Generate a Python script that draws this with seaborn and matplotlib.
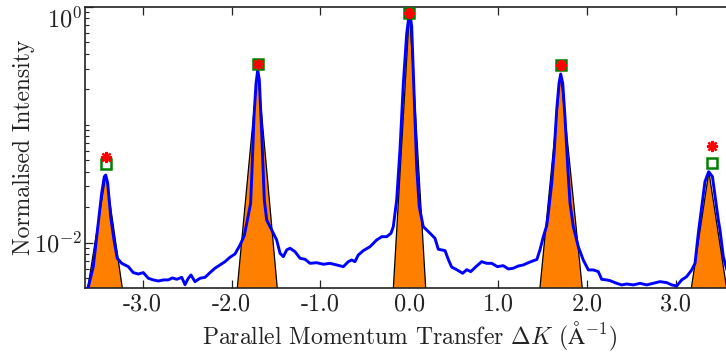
import numpy as np
import pandas as pd
import matplotlib
matplotlib.use("Agg")
import matplotlib.pyplot as plt
import seaborn as sns
from matplotlib.ticker import FixedLocator, LogLocator, FuncFormatter, NullFormatter

# ---- measured intensity scan ----
dk = [-3.648, -3.611, -3.555, -3.498, -3.460, -3.431, -3.415, -3.393, -3.359, -3.322,
      -3.285, -3.235, -3.161, -3.105, -3.048, -2.992, -2.936, -2.880, -2.823, -2.767,
      -2.711, -2.666, -2.616, -2.560, -2.523, -2.486, -2.456, -2.411, -2.354, -2.298,
      -2.242, -2.186, -2.129, -2.073, -2.017, -1.961, -1.904, -1.856, -1.815, -1.785,
      -1.770, -1.747, -1.724, -1.705, -1.687, -1.660, -1.631, -1.604, -1.548, -1.492,
      -1.454, -1.417, -1.379, -1.342, -1.286, -1.229, -1.173, -1.117, -1.042, -0.967,
      -0.892, -0.817, -0.742, -0.686, -0.648, -0.611, -0.574, -0.517, -0.442, -0.367,
      -0.310, -0.254, -0.206, -0.180, -0.142, -0.105, -0.067, -0.029, -0.003, 0.004,
      0.027, 0.056, 0.083, 0.112, 0.157, 0.233, 0.289, 0.326, 0.364, 0.402,
      0.439, 0.477, 0.533, 0.601, 0.646, 0.691, 0.758, 0.814, 0.871, 0.927,
      0.990, 1.057, 1.114, 1.170, 1.226, 1.282, 1.339, 1.395, 1.435, 1.470,
      1.507, 1.546, 1.564, 1.602, 1.631, 1.658, 1.684, 1.703, 1.726, 1.751,
      1.782, 1.808, 1.845, 1.901, 1.957, 2.014, 2.070, 2.126, 2.164, 2.220,
      2.258, 2.333, 2.389, 2.445, 2.520, 2.595, 2.670, 2.745, 2.820, 2.895,
      2.952, 3.008, 3.064, 3.120, 3.177, 3.214, 3.251, 3.289, 3.326, 3.368,
      3.410, 3.445, 3.476, 3.495, 3.532, 3.562, 3.600, 3.648]
intensity = [0.0038, 0.0042, 0.00626, 0.01469, 0.0264, 0.0363, 0.0375, 0.0321, 0.01663, 0.01054,
             0.00737, 0.00668, 0.00626, 0.00557, 0.00542, 0.00557, 0.00499, 0.00483, 0.00473, 0.00483,
             0.00483, 0.00502, 0.00489, 0.00508, 0.00440, 0.00499, 0.00532, 0.00467, 0.00499, 0.00508,
             0.00557, 0.00607, 0.00647, 0.00690, 0.00752, 0.00802, 0.00955, 0.0115, 0.0165, 0.0215,
             0.040, 0.1173, 0.225, 0.292, 0.240, 0.0848, 0.0230, 0.01559, 0.01282, 0.01054,
             0.00813, 0.00761, 0.00868, 0.00897, 0.00839, 0.00737, 0.00723, 0.00668, 0.00676, 0.00656,
             0.00668, 0.00647, 0.00626, 0.00690, 0.00713, 0.00690, 0.00786, 0.00856, 0.00925, 0.01054,
             0.01124, 0.01124, 0.01202, 0.01368, 0.0230, 0.0612, 0.225, 0.598, 0.855, 0.93,
             0.681, 0.1626, 0.0441, 0.0202, 0.01368, 0.01202, 0.01089, 0.00880, 0.00868, 0.00856,
             0.0072, 0.0062, 0.0059, 0.00550, 0.0059, 0.00568, 0.00634, 0.00690, 0.00668, 0.00668,
             0.00626, 0.00638, 0.00598, 0.00607, 0.00634, 0.00647, 0.00676, 0.00703, 0.0072, 0.0087,
             0.0112, 0.0140, 0.0178, 0.0319, 0.0612, 0.1337, 0.225, 0.270, 0.225, 0.1173,
             0.0441, 0.0216, 0.01368, 0.00925, 0.00713, 0.00587, 0.00587, 0.00568, 0.00489, 0.00483,
             0.00476, 0.00452, 0.00438, 0.00446, 0.00438, 0.00452, 0.00438, 0.00452, 0.00467, 0.00458,
             0.00438, 0.00429, 0.00483, 0.00515, 0.00587, 0.00668, 0.0120, 0.0202, 0.0330, 0.0400,
             0.0363, 0.0230, 0.0156, 0.0128, 0.00761, 0.00626, 0.0050, 0.0040]

# ---- peak markers ----
peak_dk = [-3.408, -1.705, 0.0, 1.703, 3.408]
star_int = [0.0537, 0.3266, 0.884, 0.322, 0.0665]
square_int = [0.0466, 0.3266, 0.884, 0.322, 0.0477]

# ---- fitted peak profiles (apex and feet) ----
fit_center = [-3.413, -1.705, 0.002, 1.703, 3.370]
fit_peak = [0.038, 0.29, 0.93, 0.27, 0.040]
fit_left = [-3.646, -1.952, -0.190, 1.452, 3.145]
fit_right = [-3.202, -1.469, 0.195, 1.964, 3.597]
fit_foot = 0.003

x_ticks = [-3.0, -2.0, -1.0, 0.0, 1.0, 2.0, 3.0]
y_major = [1e-2, 1e0]

sns.set_style("ticks")
plt.rcParams.update({
    "font.family": "serif",
    "font.serif": ["cmr10", "DejaVu Serif"],
    "mathtext.fontset": "cm",
    "axes.unicode_minus": False,
    "axes.formatter.use_mathtext": True,
    "font.size": 17,
})

fig = plt.figure(figsize=(7.26, 3.54), dpi=100)
ax = fig.add_axes([85 / 726, 65.7 / 354, 648.6 / 726, 281.3 / 354])

for l, c, r, p in zip(fit_left, fit_center, fit_right, fit_peak):
    ax.fill([l, c, r], [fit_foot, p, fit_foot], facecolor="#ff8000",
            edgecolor="black", linewidth=0.9, zorder=2)

df = pd.DataFrame({"dk": dk, "I": intensity})
sns.lineplot(data=df, x="dk", y="I", ax=ax, color="#0000ff", linewidth=2.1,
             estimator=None, sort=False, zorder=3)

ax.plot(peak_dk, square_int, linestyle="none", marker="s", markersize=7.5,
        markerfacecolor="none", markeredgecolor="#008000", markeredgewidth=1.8, zorder=4)
ax.plot(peak_dk, star_int, linestyle="none", marker=(8, 2, 0), markersize=8,
        color="#ff0000", markeredgewidth=1.7, zorder=5)

ax.set_yscale("log")
ax.set_xlim(-3.648, 3.648)
ax.set_ylim(0.0041, 1.0)
ax.xaxis.set_major_locator(FixedLocator(x_ticks))
ax.xaxis.set_major_formatter(FuncFormatter(lambda v, pos: f"{v:.1f}"))
ax.yaxis.set_major_locator(FixedLocator(y_major))
ax.yaxis.set_major_formatter(FuncFormatter(lambda v, pos: r"$10^{%d}$" % int(round(np.log10(v)))))
ax.yaxis.set_minor_locator(LogLocator(base=10, subs=np.arange(1, 10), numticks=20))
ax.yaxis.set_minor_formatter(NullFormatter())

ax.tick_params(which="both", direction="in", top=True, right=True, colors="#222222",
               labelsize=17.5)
ax.tick_params(which="major", length=5.5, width=0.9, pad=4)
ax.tick_params(which="minor", length=3.2, width=0.8)
ax.tick_params(axis="y", which="major", pad=2)
for s in ax.spines.values():
    s.set_linewidth(1.2)
    s.set_color("#222222")

ax.set_xlabel(r"Parallel Momentum Transfer $\Delta K$ $(\mathrm{\AA}^{-1})$", fontsize=17,
              color="#222222", labelpad=3)
ax.set_ylabel("Normalised Intensity", fontsize=17, color="#222222", labelpad=-0.5)

fig.canvas.draw()
top_tick = ax.yaxis.get_major_ticks()[-1]
top_tick.label1.set_verticalalignment("top")
top_tick.label1.set_y(1.0)

fig.savefig("out.png", dpi=100)
